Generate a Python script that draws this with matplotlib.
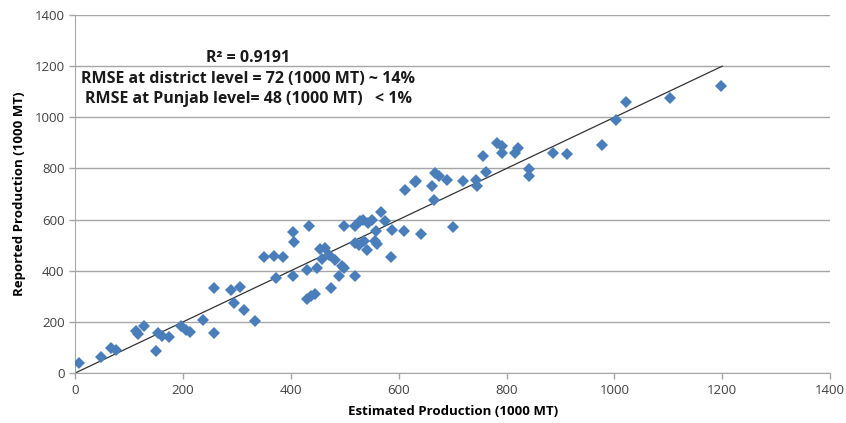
import numpy as np
import matplotlib.pyplot as plt
import matplotlib as mpl

mpl.rcParams['font.family'] = ['Open Sans', 'DejaVu Sans']

# estimated vs reported production (1000 MT)
estimated = [8, 49, 66, 76, 113, 117, 128, 151, 153, 161, 175, 197, 206, 214, 238,
             257, 258, 289, 295, 306, 314, 334, 351, 369, 385, 372, 405, 406, 405, 433,
             431, 430, 437, 445, 449, 454, 464, 458, 471, 482, 474, 489, 495, 499, 498,
             519, 519, 520, 527, 528, 533, 535, 541, 543, 550, 557, 558, 560, 568, 574,
             585, 588, 610, 641, 701, 612, 630, 633, 661, 668, 674, 666, 689, 720, 744,
             745, 756, 762, 782, 791, 792, 816, 822, 841, 841, 887, 913, 977, 1003, 1022,
             1103, 1197]
reported = [40, 63, 100, 91, 163, 153, 183, 85, 157, 146, 140, 183, 170, 161, 206,
            332, 157, 326, 274, 337, 248, 205, 453, 457, 454, 371, 553, 513, 381, 574,
            405, 290, 300, 309, 411, 486, 491, 446, 460, 443, 333, 381, 418, 410, 577,
            381, 577, 509, 500, 594, 600, 518, 483, 587, 600, 516, 555, 505, 629, 596,
            454, 561, 557, 544, 570, 714, 749, 751, 730, 782, 770, 678, 756, 752, 756,
            733, 847, 788, 900, 886, 860, 860, 882, 798, 772, 860, 856, 892, 988, 1060,
            1075, 1121]

# 1:1 reference line
line_x = [0, 1200]
line_y = [0, 1200]

stats = ["R\u00b2 = 0.9191",
         "RMSE at district level = 72 (1000 MT) ~ 14%",
         "RMSE at Punjab level= 48 (1000 MT)   < 1%"]

fig = plt.figure(figsize=(8.46, 4.23), dpi=100)
ax = fig.add_axes([0.0887, 0.118, 0.8925, 0.8465])

ax.grid(axis='y', color='#a6a6a6', linewidth=1)
ax.set_axisbelow(True)
ax.plot(line_x, line_y, color='#333333', linewidth=0.9, zorder=2)
ax.plot(estimated, reported, 'D', color='#4a7ebb', markersize=6.2, markeredgewidth=0, zorder=3)

ax.set_xlim(0, 1400)
ax.set_ylim(0, 1400)
ax.set_xticks(np.arange(0, 1401, 200))
ax.set_yticks(np.arange(0, 1401, 200))

for s in ['top', 'right']:
    ax.spines[s].set_visible(False)
for s in ['left', 'bottom']:
    ax.spines[s].set_color('#a6a6a6')
ax.tick_params(axis='both', colors='#a6a6a6', labelcolor='#404040', labelsize=9.5, length=4, width=1)

ax.set_xlabel("Estimated Production (1000 MT)", fontsize=9.5, fontweight='bold', labelpad=6)
ax.set_ylabel("Reported Production (1000 MT)", fontsize=9.5, fontweight='bold', labelpad=6)

for txt, yy in zip(stats, [1233, 1151, 1073]):
    ax.text(321, yy, txt, ha='center', va='center', fontsize=11.5, fontweight='bold', color='#1a1a1a')

fig.savefig("out.png", dpi=100)
